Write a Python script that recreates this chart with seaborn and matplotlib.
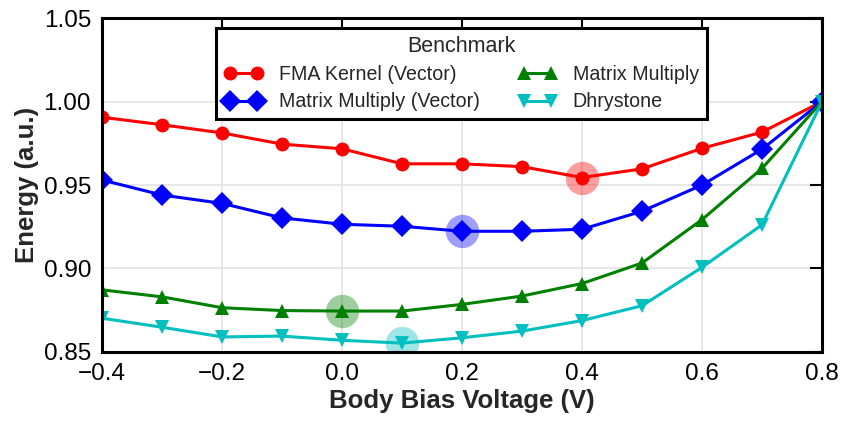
import numpy as np
import pandas as pd
import matplotlib
matplotlib.use("Agg")
import matplotlib.pyplot as plt
import seaborn as sns

voltage = [-0.4, -0.3, -0.2, -0.1, 0.0, 0.1, 0.2, 0.3, 0.4, 0.5, 0.6, 0.7, 0.8]
fma_vector = [0.9906, 0.9861, 0.9812, 0.9745, 0.9717, 0.9627, 0.9627, 0.9610, 0.9545, 0.9597, 0.9720, 0.9817, 1.0]
mm_vector = [0.9530, 0.9440, 0.9390, 0.9303, 0.9265, 0.9253, 0.9223, 0.9223, 0.9235, 0.9343, 0.9500, 0.9715, 1.0]
mm_scalar = [0.8872, 0.8830, 0.8765, 0.8748, 0.8745, 0.8745, 0.8785, 0.8835, 0.8910, 0.9033, 0.9293, 0.9600, 1.0]
dhrystone = [0.8702, 0.8648, 0.8590, 0.8595, 0.8570, 0.8553, 0.8585, 0.8625, 0.8688, 0.8777, 0.9007, 0.9262, 1.0]

names = ["FMA Kernel (Vector)", "Matrix Multiply (Vector)", "Matrix Multiply", "Dhrystone"]
series = [fma_vector, mm_vector, mm_scalar, dhrystone]
colors = ["#ff0000", "#0000ff", "#008000", "#00bfbf"]
markers = ["o", "D", "^", "v"]
msizes = [10, 11, 10, 10]

df = pd.concat(
    [pd.DataFrame({"Voltage": voltage, "Energy": s, "Benchmark": n}) for n, s in zip(names, series)],
    ignore_index=True,
)

sns.set_style("white")
plt.rcParams["font.family"] = ["Liberation Sans", "DejaVu Sans"]
plt.rcParams["axes.unicode_minus"] = True

fig = plt.figure(figsize=(8.44, 4.21), dpi=100)
ax = fig.add_axes([0.121, 0.164, 0.853, 0.793])

sns.lineplot(
    data=df, x="Voltage", y="Energy", hue="Benchmark", style="Benchmark",
    palette=dict(zip(names, colors)), markers=dict(zip(names, markers)),
    dashes=False, linewidth=2.2, markeredgewidth=0, ax=ax, legend=False,
)
for line, ms in zip(ax.get_lines(), msizes):
    line.set_markersize(ms)

# highlight each benchmark's minimum-energy point
for n, s, c in zip(names, series, colors):
    i = int(np.argmin(s))
    ax.plot(voltage[i], s[i], "o", color=c, markersize=24, alpha=0.38, markeredgewidth=0, zorder=1)

ax.set_xlim(-0.4, 0.8)
ax.set_ylim(0.85, 1.05)
ax.set_xticks([-0.4, -0.2, 0.0, 0.2, 0.4, 0.6, 0.8])
ax.set_yticks([0.85, 0.90, 0.95, 1.00, 1.05])
ax.set_xticklabels(["\u22120.4", "\u22120.2", "0.0", "0.2", "0.4", "0.6", "0.8"])
ax.set_yticklabels(["0.85", "0.90", "0.95", "1.00", "1.05"])
ax.grid(True, color="#e3e3e3", linewidth=1.2)
ax.set_axisbelow(True)
ax.tick_params(direction="in", length=9, width=1.5, labelsize=17.5, top=True, right=True,
               pad=8, colors="black")
for sp in ax.spines.values():
    sp.set_linewidth(2.2)
    sp.set_color("black")

ax.set_xlabel("Body Bias Voltage (V)", fontsize=18.5, fontweight="bold", labelpad=3)
ax.set_ylabel("Energy (a.u.)", fontsize=18.5, fontweight="bold", labelpad=3)

handles = [
    plt.Line2D([], [], color=c, marker=m, markersize=ms, linewidth=2.2, markeredgewidth=0)
    for c, m, ms in zip(colors, markers, msizes)
]
leg = ax.legend(
    handles, names, title="Benchmark", ncol=2, numpoints=2, loc="upper center",
    bbox_to_anchor=(0.499, 0.970), borderaxespad=0, fontsize=14.1, title_fontsize=15.5,
    fancybox=False, framealpha=1, edgecolor="black", columnspacing=1.95, handlelength=2.0,
    handletextpad=0.8, borderpad=0.4, labelspacing=0.42,
)
leg.get_frame().set_linewidth(2.2)

fig.savefig("out.png", dpi=100)
